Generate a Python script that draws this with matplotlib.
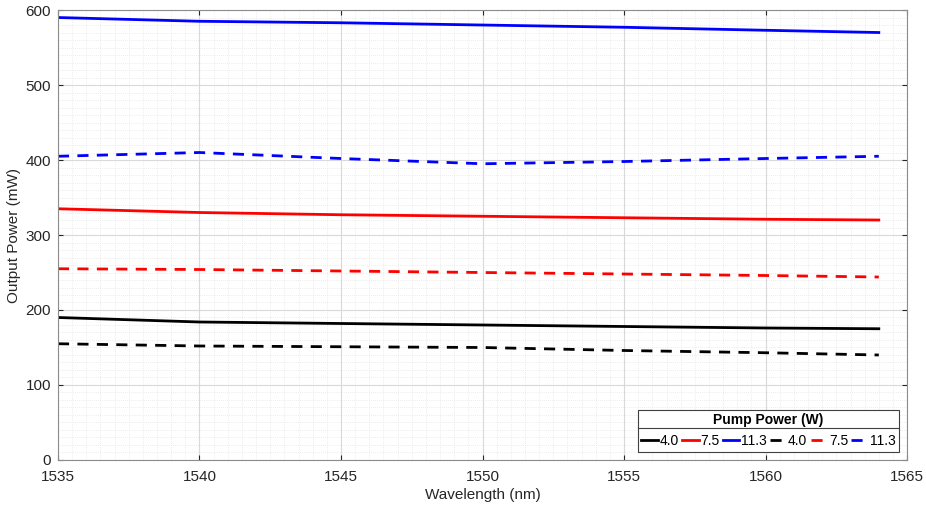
import matplotlib
matplotlib.use("Agg")
import matplotlib.pyplot as plt
from matplotlib.ticker import MultipleLocator
from matplotlib.lines import Line2D

plt.rcParams["font.family"] = ["Liberation Sans", "DejaVu Sans"]

# wavelength sample points (nm)
wavelength = [1535, 1540, 1545, 1550, 1555, 1560, 1564]

# output power (mW), solid set
solid_4_0 = [190, 184, 182, 180, 178, 176, 175]
solid_7_5 = [335, 330, 327, 325, 323, 321, 320]
solid_11_3 = [590, 585, 583, 580, 577, 573, 570]

# output power (mW), dashed set
dashed_4_0 = [155, 152, 151, 150, 146, 143, 140]
dashed_7_5 = [255, 254, 252, 250, 248, 246, 244]
dashed_11_3 = [405, 410, 402, 395, 398, 402, 405]

labels = ["4.0", "7.5", "11.3"]
colors = ["black", "red", "blue"]

fig = plt.figure(figsize=(9.26, 5.09), dpi=100)
ax = fig.add_axes([0.0626, 0.0963, 0.917, 0.884])

for vals, c, lab in zip([solid_4_0, solid_7_5, solid_11_3], colors, labels):
    ax.plot(wavelength, vals, color=c, lw=2, label=lab)
for vals, c, lab in zip([dashed_4_0, dashed_7_5, dashed_11_3], colors, labels):
    ax.plot(wavelength, vals, color=c, lw=2, ls=(0, (4, 3)), label=lab)

ax.set_xlim(1535, 1565)
ax.set_ylim(0, 600)
ax.xaxis.set_major_locator(MultipleLocator(5))
ax.xaxis.set_minor_locator(MultipleLocator(0.5))
ax.yaxis.set_major_locator(MultipleLocator(100))
ax.yaxis.set_minor_locator(MultipleLocator(10))
ax.grid(which="major", color="#d9d9d9", lw=0.8)
ax.grid(which="minor", color="#e6e6e6", lw=0.6, ls=(0, (1, 1.5)))
ax.set_axisbelow(True)
ax.tick_params(which="both", direction="in", top=True, right=True, labelsize=11,
               colors="#262626", labelcolor="#262626")
ax.tick_params(axis="x", pad=7)
ax.tick_params(axis="y", pad=5)
ax.tick_params(which="minor", length=0)
for s in ax.spines.values():
    s.set_color("#8c8c8c")

ax.set_xlabel("Wavelength (nm)", fontsize=11, color="#262626", labelpad=3)
ax.set_ylabel("Output Power (mW)", fontsize=11, color="#262626", labelpad=3)

leg = ax.legend(ncol=6, loc="lower right", title="Pump Power (W)", fontsize=10,
                handlelength=1.2, handletextpad=0.1, columnspacing=0.25,
                borderaxespad=0.6, fancybox=False, edgecolor="#404040",
                framealpha=1, borderpad=0.25)
leg.get_title().set_fontweight("bold")
leg.get_title().set_fontsize(10)
leg.get_frame().set_linewidth(0.8)

# separator line under the legend title
fig.canvas.draw()
inv = fig.transFigure.inverted()
fb = leg.get_frame().get_window_extent()
tb = leg.get_title().get_window_extent()
x0, _ = inv.transform((fb.x0, 0))
x1, ysep = inv.transform((fb.x1, tb.y0 - 1))
fig.add_artist(Line2D([x0, x1], [ysep, ysep], transform=fig.transFigure,
                      color="#404040", lw=0.8))

fig.savefig("out.png", dpi=100)
